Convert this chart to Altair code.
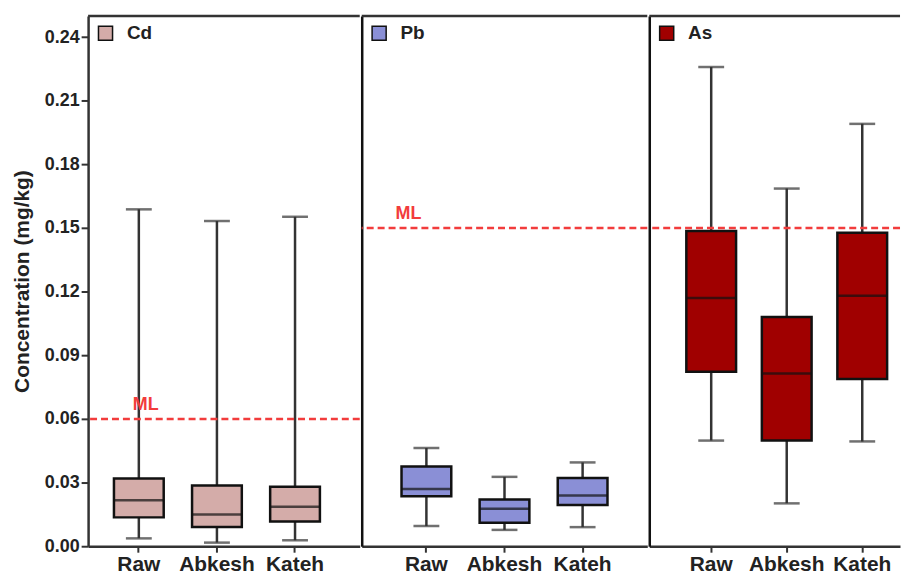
import altair as alt
import pandas as pd

sites = ["Raw", "Abkesh", "Kateh"]

cd_min = [0.0037, 0.0017, 0.0028]
cd_q1 = [0.0136, 0.0091, 0.0116]
cd_med = [0.0217, 0.0150, 0.0186]
cd_q3 = [0.0319, 0.0286, 0.0280]
cd_max = [0.1588, 0.1533, 0.1553]

pb_min = [0.0095, 0.0077, 0.0090]
pb_q1 = [0.0236, 0.0111, 0.0194]
pb_med = [0.0270, 0.0177, 0.0239]
pb_q3 = [0.0376, 0.0220, 0.0322]
pb_max = [0.0463, 0.0327, 0.0395]

as_min = [0.0498, 0.0202, 0.0494]
as_q1 = [0.0822, 0.0498, 0.0788]
as_med = [0.1170, 0.0814, 0.1181]
as_q3 = [0.1486, 0.1080, 0.1478]
as_max = [0.2259, 0.1686, 0.1991]

elements = ["Cd", "Pb", "As"]
ml_values = [0.06, 0.15, 0.15]
ml_labels = ["ML", "ML", ""]
colors = ["#d4aca9", "#8a8fd6", "#a00000"]

y_ticks = [0.0, 0.03, 0.06, 0.09, 0.12, 0.15, 0.18, 0.21, 0.24]

FONT = "Liberation Sans"
LINE = "#333333"
RED = "#f23c3c"


def panel(name, lo, q1, med, q3, hi, color, ml, ml_label, width, po, align, first, ml_x):
    df = pd.DataFrame({"site": sites, "element": name, "lo": lo, "q1": q1,
                       "med": med, "q3": q3, "hi": hi})
    yscale = alt.Scale(domain=[0, 0.25], nice=False)
    if first:
        yaxis = alt.Axis(values=y_ticks, format=".2f", title="Concentration (mg/kg)",
                         titleFontSize=21, titleFont=FONT, titleFontWeight="bold",
                         titleColor="#222", titlePadding=12,
                         labelFontSize=18, labelFont=FONT, labelFontWeight="bold",
                         labelColor="#222", labelPadding=2, tickSize=7, tickWidth=2,
                         tickColor=LINE, domainColor=LINE, domainWidth=2.5, grid=False)
    else:
        yaxis = alt.Axis(values=y_ticks, labels=False, ticks=False, title=None,
                         domainColor="#111", domainWidth=2.5, grid=False)
    xenc = alt.X("site:N", sort=sites,
                 scale=alt.Scale(paddingInner=0, paddingOuter=po, align=align),
                 axis=alt.Axis(title=None, labelAngle=0, labelFont=FONT, labelFontSize=21,
                               labelFontWeight="bold", labelColor="#222", labelPadding=1,
                               tickSize=6, tickWidth=2, tickColor=LINE,
                               domainColor=LINE, domainWidth=2.5))

    def Y(field):
        return alt.Y(f"{field}:Q", scale=yscale, axis=yaxis)

    base = alt.Chart(df)
    whisker = base.mark_rule(color=LINE, strokeWidth=2.5).encode(x=xenc, y=Y("lo"), y2="hi:Q")
    cap_lo = base.mark_tick(color=LINE, size=26, thickness=2.5).encode(x=xenc, y=Y("lo"))
    cap_hi = base.mark_tick(color=LINE, size=26, thickness=2.5).encode(x=xenc, y=Y("hi"))
    box = base.mark_bar(size=50, stroke="#111", strokeWidth=2.5, opacity=1).encode(
        x=xenc, y=Y("q1"), y2="q3:Q",
        color=alt.Color("element:N", scale=alt.Scale(domain=[name], range=[color]),
                        legend=alt.Legend(title=None, orient="top-left", offset=8, padding=0,
                                          symbolType="square", symbolSize=200,
                                          symbolStrokeColor="#111", symbolStrokeWidth=1.5,
                                          symbolOpacity=1,
                                          labelFont=FONT, labelFontSize=19,
                                          labelFontWeight="bold", labelColor="#222",
                                          labelOffset=12)))
    median = base.mark_tick(color="#111", size=50, thickness=2.5).encode(x=xenc, y=Y("med"))

    ml_df = pd.DataFrame({"ml": [ml], "label": [ml_label]})
    ml_rule = alt.Chart(ml_df).mark_rule(color=RED, strokeDash=[7, 4], strokeWidth=2.5).encode(
        y=Y("ml"))
    top = alt.Chart(ml_df).mark_rule(color=LINE, strokeWidth=2.5).encode(
        y=alt.datum(0.25, scale=yscale, axis=yaxis))
    layers = [whisker, cap_lo, cap_hi, box, median, ml_rule, top]
    if ml_label:
        ml_text = alt.Chart(ml_df).mark_text(color=RED, font=FONT, fontSize=18, fontWeight="bold",
                                             align="left", baseline="alphabetic", dy=-9).encode(
            x=alt.value(ml_x), y=Y("ml"), text="label:N")
        layers.append(ml_text)
    return alt.layer(*layers).properties(width=width, height=533)


cd = panel("Cd", cd_min, cd_q1, cd_med, cd_q3, cd_max, colors[0], ml_values[0], ml_labels[0],
           273, 0.239, 0.313, True, 45)
pb = panel("Pb", pb_min, pb_q1, pb_med, pb_q3, pb_max, colors[1], ml_values[1], ml_labels[1],
           287, 0.328, 0.5, False, 34)
as_ = panel("As", as_min, as_q1, as_med, as_q3, as_max, colors[2], ml_values[2], ml_labels[2],
            252, 0.16, 1.0, False, 34)

chart = alt.hconcat(cd, pb, as_, spacing=-2).resolve_scale(
    color="independent", y="independent", x="independent").resolve_legend(
    color="independent").properties(
    padding={"left": 2.5, "top": 4.5, "right": 0, "bottom": 0}).configure_view(stroke=None)

chart.save("out.html", embed_options={"renderer": "svg", "actions": False})
